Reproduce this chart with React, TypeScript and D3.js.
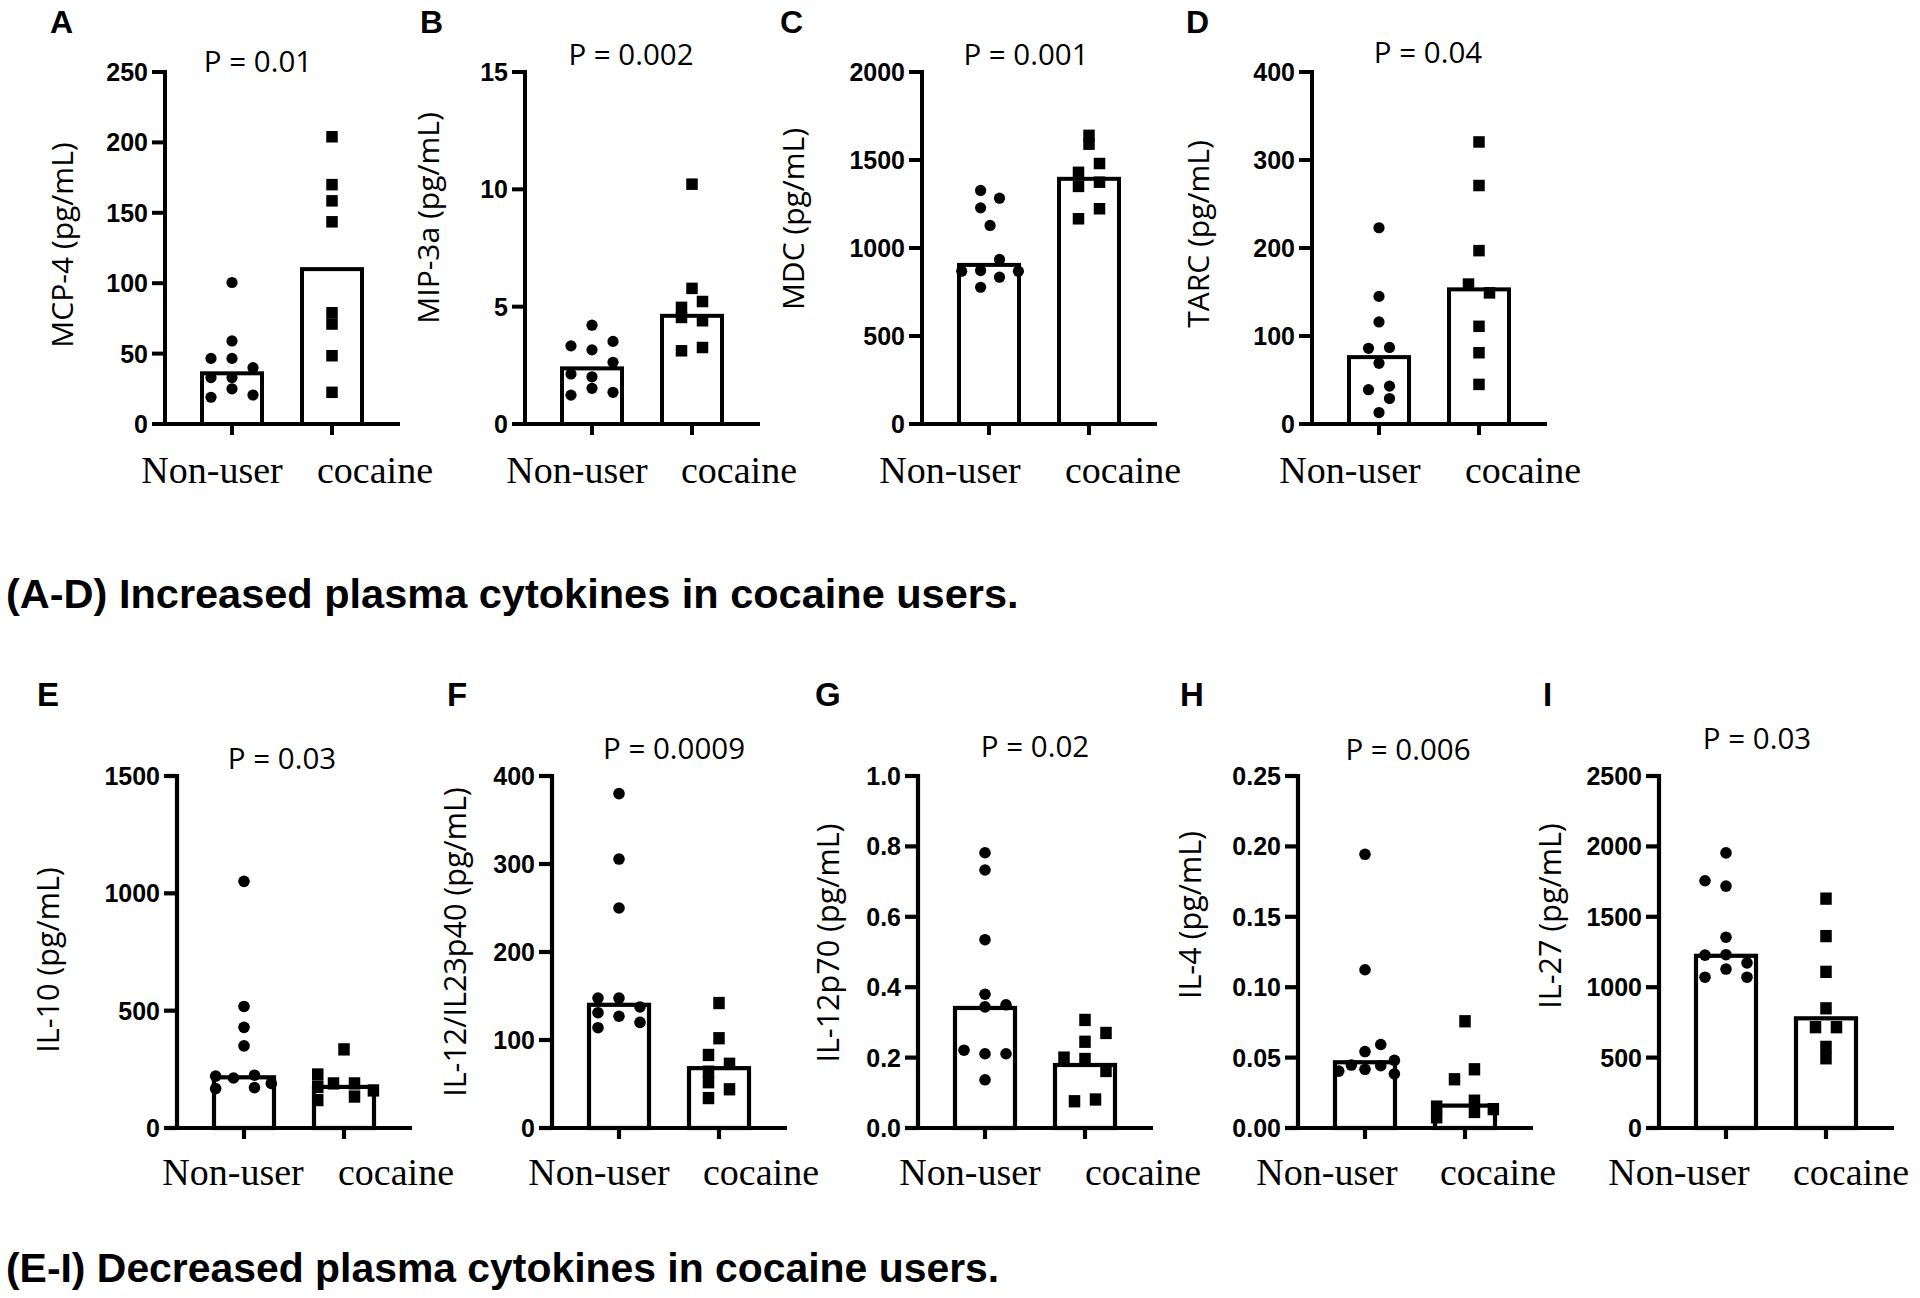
import React from "react";
import * as d3 from "d3";

const groups = ["Non-user", "cocaine"];

// A: MCP-4
const mcp4NonUser = [100.5, 59, 46.6, 46.6, 40, 33, 33, 25, 19, 20.6];
const mcp4NonUserJit = [0, 0, -2, 0, 2, -2, 0, 0, -2, 2];
const mcp4Cocaine = [204, 170, 158.5, 143.6, 79, 71, 48.5, 22.5];
const mcp4CocaineJit = [0, 0, 0, 0, 0, 0, 0, 0];
const mcp4Bars = [36, 110];
const mcp4Ticks = [0, 50, 100, 150, 200, 250];

// B: MIP-3a
const mip3aNonUser = [4.21, 3.33, 3.52, 3.16, 2.63, 2.13, 2.01, 1.52, 1.23, 1.35];
const mip3aNonUserJit = [0, -2, 2, 0, 2, -2, 0, 0, -2, 2];
const mip3aCocaine = [10.22, 5.78, 5.22, 4.97, 4.54, 4.4, 3.12, 3.26];
const mip3aCocaineJit = [0, 0, 1, -1, -1, 1, -1, 1];
const mip3aBars = [2.37, 4.61];
const mip3aTicks = [0, 5, 10, 15];

// C: MDC
const mdcNonUser = [1327, 1283, 1228, 1128, 935, 868, 872, 868, 834, 777];
const mdcNonUserJit = [-0.8, 1, -0.8, 0.1, 1, -2.6, -0.8, 2.8, 1, -0.8];
const mdcCocaine = [1640, 1590, 1480, 1430, 1350, 1374, 1223, 1166];
const mdcCocaineJit = [0, 0, 1, -1, -1, 1, 1, -1];
const mdcBars = [904, 1393];
const mdcTicks = [0, 500, 1000, 1500, 2000];

// D: TARC
const tarcNonUser = [223, 145, 116, 86, 87, 69, 39, 43, 29, 13];
const tarcNonUserJit = [0, 0, 0, -1, 1, 0, -1, 1, 1, 0];
const tarcCocaine = [320.5, 271, 197, 159, 149, 111, 81, 45];
const tarcCocaineJit = [0, 0, 0, -1, 1, 0, 0, 0];
const tarcBars = [76, 153];
const tarcTicks = [0, 100, 200, 300, 400];

// E: IL-10
const il10NonUser = [1051, 518, 429, 350, 221, 168, 213, 225, 172, 190];
const il10NonUserJit = [0, 0, 0, 0, -2.7, -2.7, -1, 1, 1, 2.6];
const il10Cocaine = [335, 228, 175, 119, 190, 190, 134, 160];
const il10CocaineJit = [0, -2.5, -2.5, -2.5, -1, 1, 1, 2.8];
const il10Bars = [216, 175];
const il10Ticks = [0, 500, 1000, 1500];

// F: IL-12/IL23p40
const il12p40NonUser = [380, 305.6, 250, 147.7, 147.7, 137.5, 131, 127, 120, 114];
const il12p40NonUserJit = [0, 0, 0, -2, 0, 2, -2, 0, 2, -2];
const il12p40Cocaine = [142, 102, 83, 73, 64, 52, 44, 34];
const il12p40CocaineJit = [0, 0, -1, 1, -1, -1, 1, -1];
const il12p40Bars = [140, 68];
const il12p40Ticks = [0, 100, 200, 300, 400];

// G: IL-12p70
const il12p70NonUser = [0.782, 0.733, 0.535, 0.38, 0.344, 0.35, 0.221, 0.211, 0.211, 0.137];
const il12p70NonUserJit = [0, 0, 0, 0, 0, 2, -2, 0, 2, 0];
const il12p70Cocaine = [0.307, 0.27, 0.245, 0.196, 0.2, 0.162, 0.076, 0.081];
const il12p70CocaineJit = [0, 2, 0, 0, -2, 2, -1, 1];
const il12p70Bars = [0.341, 0.179];
const il12p70Ticks = [0, 0.2, 0.4, 0.6, 0.8, 1.0];

// H: IL-4
const il4NonUser = [0.1944, 0.1124, 0.0593, 0.0543, 0.0404, 0.0447, 0.0417, 0.0442, 0.048, 0.0384];
const il4NonUserJit = [0, 0, 1.5, 0, -2.5, -1.3, 0, 1.5, 2.8, 2.8];
const il4Cocaine = [0.0758, 0.0417, 0.0346, 0.0194, 0.0152, 0.0134, 0.0114, 0.0076];
const il4CocaineJit = [0, 0.9, -1, 0.9, -2.7, 2.7, 0.9, -2.7];
const il4Bars = [0.0467, 0.0159];
const il4Ticks = [0, 0.05, 0.1, 0.15, 0.2, 0.25];

// I: IL-27
const il27NonUser = [1954, 1756, 1718, 1355, 1228, 1231, 1173, 1129, 1071, 1071];
const il27NonUserJit = [0, -2, 0, 0, -2, 0, 2, 0, -2, 2];
const il27Cocaine = [1629, 1363, 1109, 850, 716, 716, 576, 495];
const il27CocaineJit = [0, 0, 0, 0, -1, 1, 0, 0];
const il27Bars = [1223, 779];
const il27Ticks = [0, 500, 1000, 1500, 2000, 2500];

const pValues = ["P = 0.01", "P = 0.002", "P = 0.001", "P = 0.04", "P = 0.03", "P = 0.0009", "P = 0.02", "P = 0.006", "P = 0.03"];
const yTitles = ["MCP-4 (pg/mL)", "MIP-3a (pg/mL)", "MDC (pg/mL)", "TARC (pg/mL)", "IL-10 (pg/mL)", "IL-12/IL23p40 (pg/mL)", "IL-12p70 (pg/mL)", "IL-4 (pg/mL)", "IL-27 (pg/mL)"];
const panelLetters = ["A", "B", "C", "D", "E", "F", "G", "H", "I"];
const tickFormats = ["d", "d", "d", "d", "d", "d", ".1f", ".2f", "d"];
const captionTop = "(A-D) Increased plasma cytokines in cocaine users.";
const captionBottom = "(E-I) Decreased plasma cytokines in cocaine users.";

const dataSets = [
  { nu: mcp4NonUser, nuJ: mcp4NonUserJit, co: mcp4Cocaine, coJ: mcp4CocaineJit, bars: mcp4Bars, ticks: mcp4Ticks },
  { nu: mip3aNonUser, nuJ: mip3aNonUserJit, co: mip3aCocaine, coJ: mip3aCocaineJit, bars: mip3aBars, ticks: mip3aTicks },
  { nu: mdcNonUser, nuJ: mdcNonUserJit, co: mdcCocaine, coJ: mdcCocaineJit, bars: mdcBars, ticks: mdcTicks },
  { nu: tarcNonUser, nuJ: tarcNonUserJit, co: tarcCocaine, coJ: tarcCocaineJit, bars: tarcBars, ticks: tarcTicks },
  { nu: il10NonUser, nuJ: il10NonUserJit, co: il10Cocaine, coJ: il10CocaineJit, bars: il10Bars, ticks: il10Ticks },
  { nu: il12p40NonUser, nuJ: il12p40NonUserJit, co: il12p40Cocaine, coJ: il12p40CocaineJit, bars: il12p40Bars, ticks: il12p40Ticks },
  { nu: il12p70NonUser, nuJ: il12p70NonUserJit, co: il12p70Cocaine, coJ: il12p70CocaineJit, bars: il12p70Bars, ticks: il12p70Ticks },
  { nu: il4NonUser, nuJ: il4NonUserJit, co: il4Cocaine, coJ: il4CocaineJit, bars: il4Bars, ticks: il4Ticks },
  { nu: il27NonUser, nuJ: il27NonUserJit, co: il27Cocaine, coJ: il27CocaineJit, bars: il27Bars, ticks: il27Ticks },
];

// row styles
const rowStyles = [
  { top: 72, bot: 424, tickLen: 13, r: 5.6, sqW: 11.5, sqH: 11.5, lw: 4,
    labY: 483, pFont: 29.5, ytFont: 30, letFont: 32, letY: 33 },
  { top: 776, bot: 1128, tickLen: 13, r: 5.8, sqW: 11.5, sqH: 12.3, lw: 4.2,
    labY: 1185, pFont: 29.5, ytFont: 30.5, letFont: 33, letY: 706 },
];
const BAR_OFF = [67, 167];
const X_END = 235;
const SLOT = 10.5;
const BAR_W = 60;

// per-panel layout (pixel positions)
const layouts = [
  { row: 0, ax: 165, lab: [-20, 43], p: [258, 72], yt: [62, 245], let: 50 },
  { row: 0, ax: 525, lab: [-15, 47], p: [631, 65], yt: [428, 218], let: 420 },
  { row: 0, ax: 922, lab: [-39, 34], p: [1026, 65], yt: [793, 219], let: 780 },
  { row: 0, ax: 1312, lab: [-29, 44], p: [1428, 63], yt: [1198, 234], let: 1186 },
  { row: 1, ax: 177, lab: [-11, 52], p: [282, 769], yt: [48, 960], let: 37 },
  { row: 1, ax: 552, lab: [-20, 42], p: [674, 759], yt: [455, 942], let: 447 },
  { row: 1, ax: 918, lab: [-15, 58], p: [1035, 757], yt: [828, 943], let: 815 },
  { row: 1, ax: 1298, lab: [-38, 33], p: [1408, 760], yt: [1190, 915], let: 1180 },
  { row: 1, ax: 1659, lab: [-47, 25], p: [1757, 749], yt: [1550, 916], let: 1543 },
];

function Panel({ i }: { i: number }) {
  const d = dataSets[i];
  const L = layouts[i];
  const S = rowStyles[L.row];
  const y = d3.scaleLinear().domain([d.ticks[0], d.ticks[d.ticks.length - 1]]).range([S.bot, S.top]);
  const x = d3.scalePoint<string>().domain(groups).range([L.ax + BAR_OFF[0], L.ax + BAR_OFF[1]]);
  const fmt = d3.format(tickFormats[i]);
  const sansP = "'Open Sans', sans-serif";
  const arial = "'Liberation Sans', Arial, sans-serif";
  return (
    <g>
      <text x={L.let} y={S.letY} fontFamily={arial} fontWeight="bold" fontSize={S.letFont}>
        {panelLetters[i]}
      </text>
      <text x={L.p[0]} y={L.p[1]} textAnchor="middle" fontFamily={sansP} fontSize={S.pFont}>
        {pValues[i]}
      </text>
      <text
        transform={`translate(${L.yt[0]},${L.yt[1]}) rotate(-90)`}
        textAnchor="middle"
        dy="0.36em"
        fontFamily={sansP}
        fontSize={S.ytFont}
      >
        {yTitles[i]}
      </text>
      {groups.map((g, gi) => (
        <rect
          key={g}
          x={(x(g) as number) - BAR_W / 2}
          y={y(d.bars[gi])}
          width={BAR_W}
          height={S.bot - y(d.bars[gi])}
          fill="white"
          stroke="black"
          strokeWidth={S.lw}
        />
      ))}
      {d.nu.map((v, k) => (
        <circle key={"n" + k} cx={(x(groups[0]) as number) + d.nuJ[k] * SLOT} cy={y(v)} r={S.r} fill="black" />
      ))}
      {d.co.map((v, k) => (
        <rect
          key={"c" + k}
          x={(x(groups[1]) as number) + d.coJ[k] * SLOT - S.sqW / 2}
          y={y(v) - S.sqH / 2}
          width={S.sqW}
          height={S.sqH}
          fill="black"
        />
      ))}
      <line x1={L.ax} x2={L.ax} y1={S.top - S.lw / 2} y2={S.bot} stroke="black" strokeWidth={S.lw} />
      {d.ticks.map((t) => (
        <g key={t}>
          <line x1={L.ax - S.tickLen} x2={L.ax} y1={y(t)} y2={y(t)} stroke="black" strokeWidth={S.lw} />
          <text
            x={L.ax - S.tickLen - 4}
            y={y(t)}
            dy="0.36em"
            textAnchor="end"
            fontFamily={arial}
            fontWeight="bold"
            fontSize={25}
          >
            {fmt(t)}
          </text>
        </g>
      ))}
      <line x1={L.ax - S.tickLen} x2={L.ax + X_END} y1={S.bot} y2={S.bot} stroke="black" strokeWidth={S.lw} />
      {groups.map((g, gi) => (
        <g key={g}>
          <line x1={x(g)} x2={x(g)} y1={S.bot} y2={S.bot + 11} stroke="black" strokeWidth={S.lw} />
          <text
            x={(x(g) as number) + L.lab[gi]}
            y={S.labY}
            textAnchor="middle"
            fontFamily="'Liberation Serif', 'Times New Roman', serif"
            fontSize={38}
          >
            {g}
          </text>
        </g>
      ))}
    </g>
  );
}

export default function App() {
  return (
    <svg
      width={1920}
      height={1298}
      viewBox="0 0 1920 1298"
      style={{ position: "absolute", left: 0, top: 0, display: "block", background: "white" }}
    >
      <rect x={0} y={0} width={1920} height={1298} fill="white" />
      {dataSets.map((_, i) => (
        <Panel key={i} i={i} />
      ))}
      <text x={6} y={608} fontFamily="'Liberation Sans', Arial, sans-serif" fontWeight="bold" fontSize={41.5}>
        {captionTop}
      </text>
      <text x={6} y={1282} fontFamily="'Liberation Sans', Arial, sans-serif" fontWeight="bold" fontSize={40.9}>
        {captionBottom}
      </text>
    </svg>
  );
}
